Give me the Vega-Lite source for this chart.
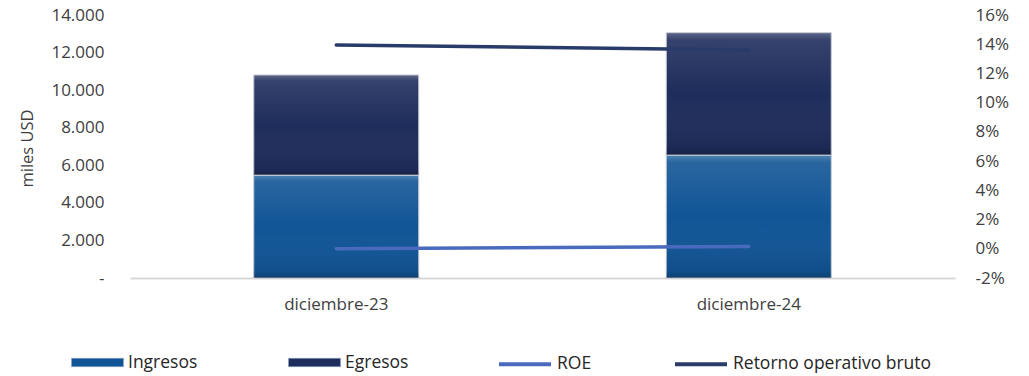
{
  "$schema": "https://vega.github.io/schema/vega-lite/v6.json",
  "autosize": {"type": "none"},
  "width": 825,
  "height": 263,
  "padding": {"left": 130, "top": 15, "right": 74, "bottom": 98},
  "background": "white",
  "config": {
    "font": "Open Sans",
    "view": {"stroke": null},
    "axis": {"labelColor": "#404040", "labelFontSize": 17, "titleColor": "#404040", "titleFontWeight": "normal", "grid": false, "ticks": false},
    "legend": {"labelColor": "#262626", "labelFontSize": 17.5, "labelLimit": 400}
  },
  "datasets": {
    "flujos": [
      {"periodo": "diciembre-23", "serie": "Ingresos", "miles": 5480},
      {"periodo": "diciembre-23", "serie": "Egresos", "miles": 5330},
      {"periodo": "diciembre-24", "serie": "Ingresos", "miles": 6550},
      {"periodo": "diciembre-24", "serie": "Egresos", "miles": 6510}
    ],
    "indicadores": [
      {"periodo": "diciembre-23", "indicador": "ROE", "tasa": 0.0},
      {"periodo": "diciembre-24", "indicador": "ROE", "tasa": 0.0015},
      {"periodo": "diciembre-23", "indicador": "Retorno operativo bruto", "tasa": 0.1395},
      {"periodo": "diciembre-24", "indicador": "Retorno operativo bruto", "tasa": 0.136}
    ]
  },
  "encoding": {
    "x": {
      "field": "periodo", "type": "nominal", "title": null,
      "scale": {"paddingInner": 0.6, "paddingOuter": 0.3},
      "axis": {"labelAngle": 0, "labelPadding": 18, "domainColor": "#d9d9d9", "domainWidth": 2}
    }
  },
  "layer": [
    {
      "data": {"name": "flujos"},
      "encoding": {
        "y": {
          "field": "miles", "type": "quantitative", "stack": "zero",
          "scale": {"domain": [0, 14000]},
          "axis": {
            "title": "miles USD", "titleFontSize": 16.5, "titleX": -103, "titleY": 133,
            "titleAlign": "center", "titleBaseline": "middle",
            "values": [0, 2000, 4000, 6000, 8000, 10000, 12000, 14000],
            "labelExpr": "datum.value == 0 ? '-' : replace(format(datum.value, ',.0f'), ',', '.')",
            "labelPadding": 26, "domain": false
          }
        },
        "order": {"field": "serie", "sort": "descending"}
      },
      "layer": [
        {
          "mark": {"type": "bar", "stroke": "#c8ccd4", "strokeWidth": 1},
          "encoding": {
            "fill": {
              "field": "serie", "type": "nominal",
              "scale": {"domain": ["Ingresos", "Egresos"], "range": ["#115596", "#1f2d5c"]},
              "legend": {
                "title": null, "orient": "none", "direction": "horizontal", "columns": 2,
                "legendX": -59, "legendY": 321,
                "symbolType": "M-1,-0.16L1,-0.16L1,0.16L-1,0.16Z", "symbolSize": 2704,
                "symbolStrokeColor": "#8fa3c8", "symbolStrokeWidth": 0.6,
                "labelOffset": 4, "columnPadding": 89
              }
            }
          }
        },
        {
          "mark": {
            "type": "bar",
            "fill": {
              "gradient": "linear", "x1": 0, "y1": 0, "x2": 0, "y2": 1,
              "stops": [
                {"offset": 0, "color": "rgba(255,255,255,0.28)"},
                {"offset": 0.06, "color": "rgba(255,255,255,0.10)"},
                {"offset": 0.5, "color": "rgba(255,255,255,0.0)"},
                {"offset": 0.94, "color": "rgba(0,0,0,0.08)"},
                {"offset": 1, "color": "rgba(0,0,0,0.25)"}
              ]
            }
          },
          "encoding": {
            "detail": {"field": "serie"}
          }
        }
      ]
    },
    {
      "data": {"name": "indicadores"},
      "mark": {"type": "line", "strokeWidth": 3.5, "strokeCap": "round"},
      "encoding": {
        "y": {
          "field": "tasa", "type": "quantitative",
          "scale": {"domain": [-0.02, 0.16]},
          "axis": {
            "orient": "right", "title": null,
            "labelExpr": "replace(format(datum.value, '.0%'), '\u2212', '-')",
            "values": [-0.02, 0, 0.02, 0.04, 0.06, 0.08, 0.1, 0.12, 0.14, 0.16],
            "labelPadding": 20, "domain": false
          }
        },
        "stroke": {
          "field": "indicador", "type": "nominal",
          "scale": {"domain": ["ROE", "Retorno operativo bruto"], "range": ["#4a6bbd", "#283b69"]},
          "legend": {
            "title": null, "orient": "none", "direction": "horizontal", "columns": 2,
            "legendX": 367, "legendY": 321,
            "symbolType": "stroke", "symbolSize": 2704, "symbolStrokeWidth": 4,
            "labelOffset": 4, "columnPadding": 75
          }
        }
      }
    }
  ],
  "resolve": {"scale": {"y": "independent"}}
}
